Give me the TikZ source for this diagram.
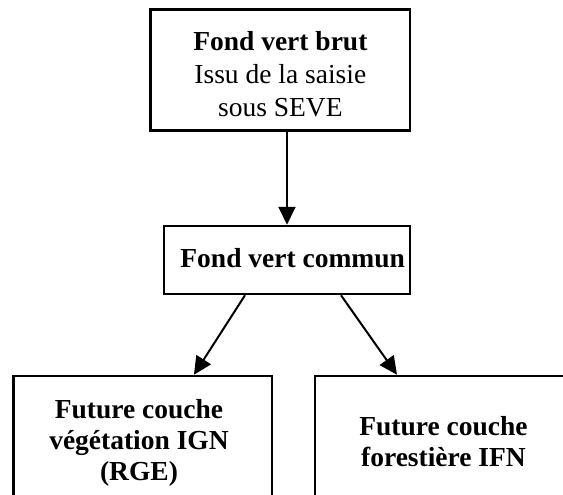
\documentclass[tikz,border=0pt]{standalone}
\usepackage{fontspec}
\setmainfont{Liberation Serif}
\usetikzlibrary{arrows.meta}
\tikzset{
  box/.style={draw=black, line width=2.5pt, rectangle, inner sep=0pt},
  txt/.style={align=center, inner sep=0pt, font=\fontsize{27.5}{33}\selectfont},
  btxt/.style={align=center, inner sep=0pt, font=\fontsize{27.5}{30.6}\selectfont\bfseries},
  arr/.style={line width=2pt, -{Triangle[length=18pt,width=17pt]}},
}
\begin{document}
\begin{tikzpicture}[x=1pt,y=-1pt]
\useasboundingbox (0,0) rectangle (563,495);
\clip (0,0) rectangle (563,495);
% boxes
\node[box, minimum width=259.3pt, minimum height=121.4pt] (top) at (280.35,70) {};
\node[box, minimum width=246pt, minimum height=68pt] (mid) at (287,260) {};
\node[box, minimum width=258.7pt, minimum height=150pt] (lbox) at (142.65,451) {};
\node[box, minimum width=259pt, minimum height=150pt] (rbox) at (444.5,451) {};
% texts (base anchor = baseline of the last line)
\node[txt, anchor=base] (ttop) at (280.35,116.7) {\textbf{Fond vert brut}\\Issu de la saisie\\sous SEVE};
\node[btxt, anchor=base] (tmid) at (292.7,267) {Fond vert commun};
\node[btxt, anchor=base] (tl) at (139,480) {Future couche\\végétation IGN\\(RGE)};
\node[btxt, anchor=base, font=\fontsize{27.5}{31}\selectfont\bfseries] (tr) at (443.5,466) {Future couche\\forestière IFN};
% arrows
\draw[arr] (top.south -| mid.north) -- (mid.north);
\draw[arr] ([xshift=-42pt]mid.south) -- ([xshift=51.3pt]lbox.north);
\draw[arr] ([xshift=54pt]mid.south) -- ([xshift=-47.5pt]rbox.north);
\end{tikzpicture}
\end{document}
